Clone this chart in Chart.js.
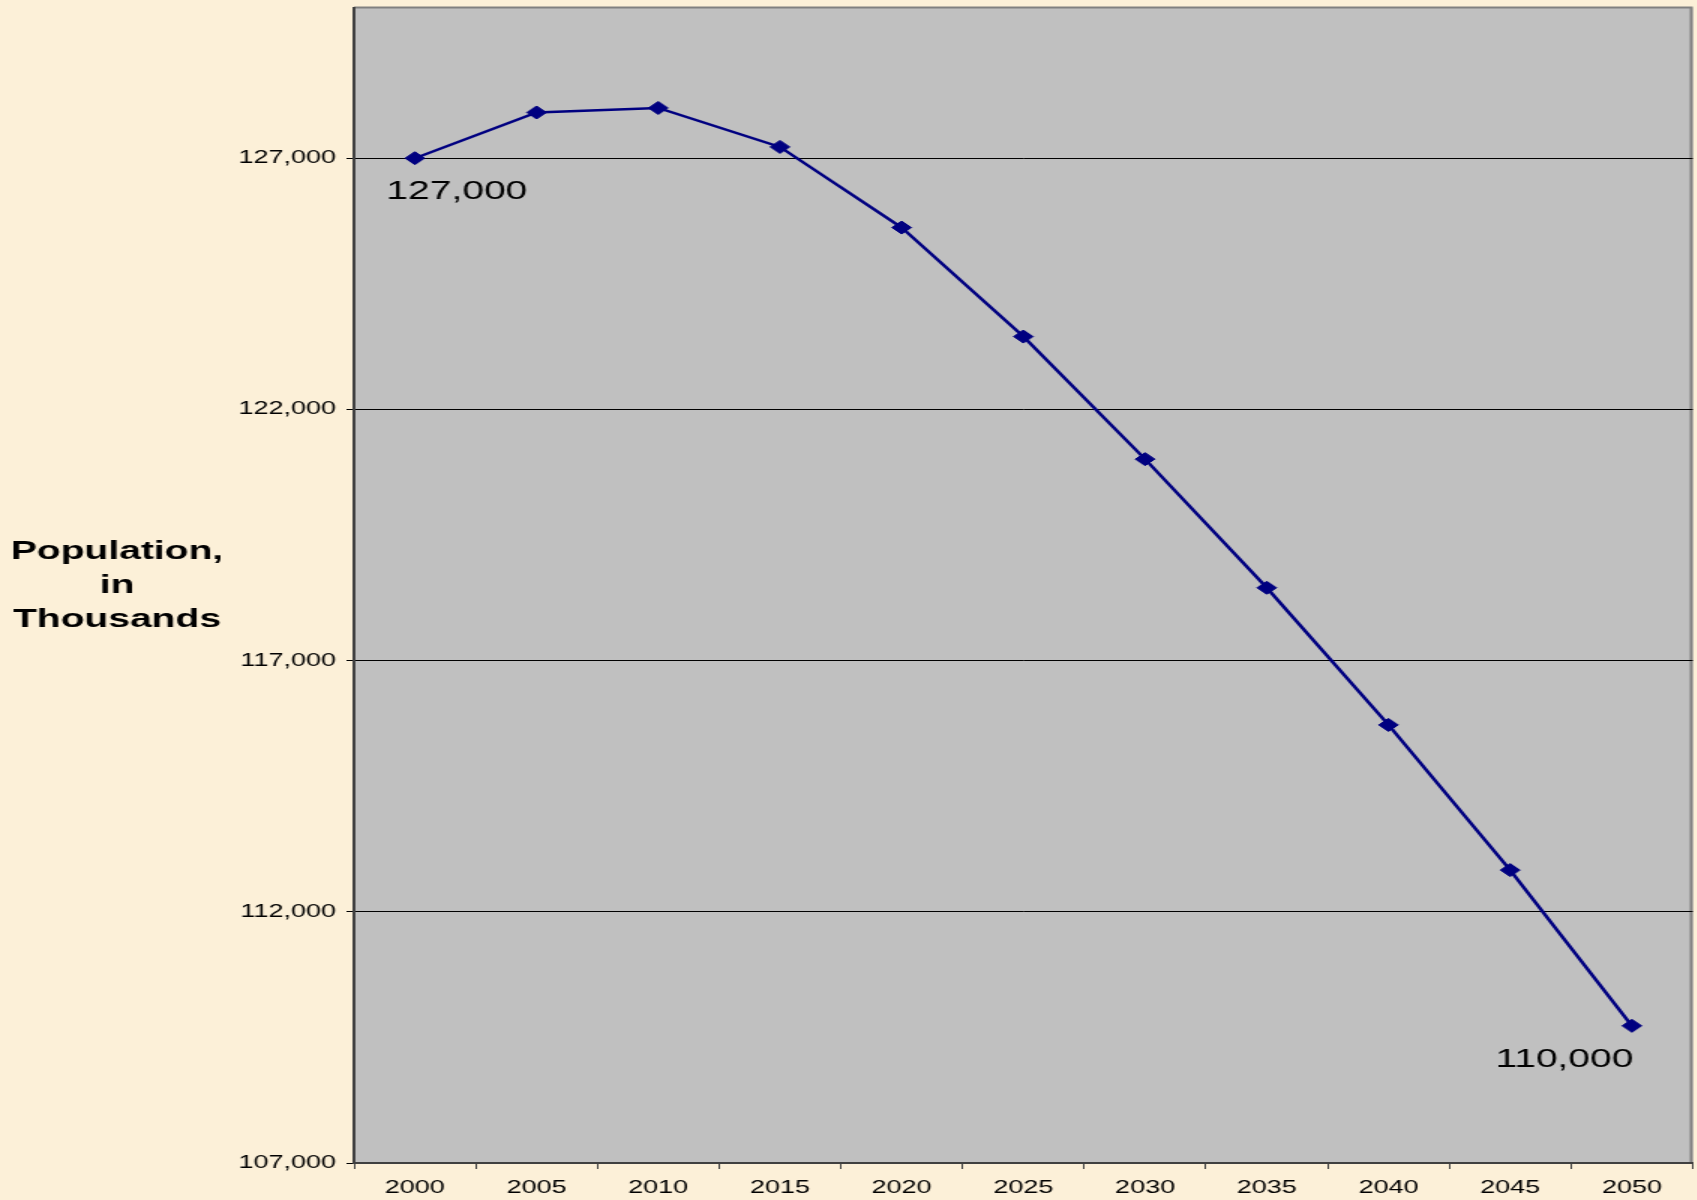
<!DOCTYPE html>
<html>
<head>
<meta charset="utf-8">
<script src="https://cdn.jsdelivr.net/npm/chart.js@4/dist/chart.umd.min.js"></script>
<style>
  html, body { margin: 0; padding: 0; background: #FCF0D8; overflow: hidden; }
  /* the original picture is stretched sideways, so draw narrow and widen with css.
     chart.js keeps ~5px on the right, the extra width gets clipped by the window */
  #popChart { display: block; width: 1704px; height: 1200px; }
</style>
</head>
<body>
<canvas id="popChart" width="1136" height="1200" style="width:1704px;height:1200px"></canvas>
<script>
// Chart data
const years = ['2000', '2005', '2010', '2015', '2020', '2025', '2030', '2035', '2040', '2045', '2050'];
const population = [127000, 127910, 128000, 127225, 125620, 123450, 121010, 118450, 115720, 112830, 109730];
const pointLabels = ['127,000', '', '', '', '', '', '', '', '', '', '110,000'];
const yTicks = [107000, 112000, 117000, 122000, 127000];
const yTitle = ['Population,', 'in', 'Thousands'];

const FONT = '"Liberation Sans", Arial, sans-serif';
const NAVY = '#000080';

// page background, plot area fill, border, y title and value labels
const backdrop = {
    id: 'backdrop',
    beforeDraw(chart) {
        const { ctx, chartArea: a } = chart;
        ctx.save();
        ctx.fillStyle = '#FCF0D8';
        ctx.fillRect(0, 0, chart.width, chart.height);
        ctx.fillStyle = '#C0C0C0';
        ctx.fillRect(a.left, a.top, a.right - a.left, a.bottom - a.top);
        ctx.strokeStyle = '#808080';
        ctx.lineWidth = 2;
        ctx.beginPath();
        ctx.moveTo(a.left, a.top);
        ctx.lineTo(a.right - 1, a.top);
        ctx.lineTo(a.right - 1, a.bottom);
        ctx.stroke();
        ctx.restore();
    },
    afterDraw(chart) {
        const { ctx } = chart;
        ctx.save();
        ctx.fillStyle = '#000';
        ctx.font = 'bold 26px ' + FONT;
        ctx.textAlign = 'center';
        ctx.textBaseline = 'middle';
        yTitle.forEach((line, i) => ctx.fillText(line, 78, 552 + i * 34));

        const meta = chart.getDatasetMeta(0);
        ctx.font = '26px ' + FONT;
        pointLabels.forEach((txt, i) => {
            if (!txt) return;
            const p = meta.data[i];
            const dx = i === 0 ? 28 : -45;
            ctx.fillText(txt, p.x + dx, p.y + 34);
        });
        ctx.restore();
    }
};

const ctx = document.getElementById('popChart').getContext('2d');
const popChart = new Chart(ctx, {
    type: 'line',
    data: {
        labels: years,
        datasets: [{
            data: population,
            borderColor: NAVY,
            borderWidth: 2.5,
            pointStyle: 'rectRot',
            pointRadius: 6.5,
            pointBorderWidth: 1,
            pointBackgroundColor: NAVY,
            pointBorderColor: NAVY,
            fill: false,
            tension: 0
        }]
    },
    options: {
        responsive: false,
        animation: false,
        layout: { padding: { top: 7, right: 0, left: 0, bottom: 0 } },
        plugins: {
            legend: { display: false },
            tooltip: { enabled: false }
        },
        scales: {
            x: {
                offset: true,
                grid: {
                    offset: true,
                    drawOnChartArea: false,
                    drawTicks: true,
                    tickLength: 6,
                    color: '#404040'
                },
                border: { color: '#404040', width: 2 },
                ticks: {
                    color: '#000',
                    font: { family: FONT, size: 18 },
                    padding: 8,
                    maxRotation: 0
                },
                afterFit(scale) {
                    scale.height = 37;
                    scale.paddingLeft = 0;
                    scale.paddingRight = 0;
                }
            },
            y: {
                min: 107000,
                max: 130000,
                grid: {
                    color: '#000',
                    lineWidth: 1,
                    tickLength: 5,
                    drawTicks: true
                },
                border: { color: '#404040', width: 2 },
                ticks: {
                    color: '#000',
                    font: { family: FONT, size: 18 },
                    padding: 7,
                    callback: v => v.toLocaleString('en-US')
                },
                afterBuildTicks(scale) {
                    scale.ticks = yTicks.map(v => ({ value: v }));
                },
                afterFit(scale) {
                    scale.width = 236;
                    scale.paddingTop = 0;
                    scale.paddingBottom = 0;
                }
            }
        }
    },
    plugins: [backdrop]
});
</script>
</body>
</html>
